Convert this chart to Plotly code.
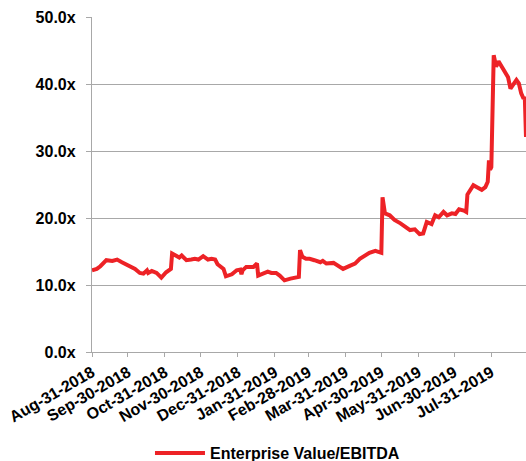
import plotly.graph_objects as go

dates = [
    "2018-08-31", "2018-09-04", "2018-09-07", "2018-09-12", "2018-09-17", "2018-09-21",
    "2018-09-25", "2018-09-29", "2018-10-02", "2018-10-06", "2018-10-10", "2018-10-13",
    "2018-10-16", "2018-10-17", "2018-10-20", "2018-10-24", "2018-10-28", "2018-11-01",
    "2018-11-05", "2018-11-06", "2018-11-09", "2018-11-12", "2018-11-14", "2018-11-18",
    "2018-11-22", "2018-11-25", "2018-11-28", "2018-12-02", "2018-12-06", "2018-12-09",
    "2018-12-12", "2018-12-14", "2018-12-19", "2018-12-21", "2018-12-26", "2018-12-30",
    "2019-01-02", "2019-01-03", "2019-01-04", "2019-01-07", "2019-01-13", "2019-01-16",
    "2019-01-17", "2019-01-21", "2019-01-25", "2019-01-28", "2019-02-01", "2019-02-04",
    "2019-02-08", "2019-02-13", "2019-02-17", "2019-02-20", "2019-02-21", "2019-02-23",
    "2019-02-26", "2019-03-01", "2019-03-05", "2019-03-10", "2019-03-12", "2019-03-15",
    "2019-03-21", "2019-03-25", "2019-03-29", "2019-04-04", "2019-04-08", "2019-04-12",
    "2019-04-16", "2019-04-20", "2019-04-25", "2019-04-28", "2019-04-30", "2019-05-01",
    "2019-05-03", "2019-05-07", "2019-05-11", "2019-05-16", "2019-05-20", "2019-05-24",
    "2019-05-28", "2019-06-01", "2019-06-04", "2019-06-07", "2019-06-11", "2019-06-14",
    "2019-06-17", "2019-06-21", "2019-06-24", "2019-06-28", "2019-07-01", "2019-07-04",
    "2019-07-08", "2019-07-10", "2019-07-11", "2019-07-13", "2019-07-16", "2019-07-19",
    "2019-07-23", "2019-07-26", "2019-07-28", "2019-07-29", "2019-07-30", "2019-07-31",
    "2019-08-02", "2019-08-04", "2019-08-06", "2019-08-09", "2019-08-11", "2019-08-14",
    "2019-08-16", "2019-08-18", "2019-08-21", "2019-08-23", "2019-08-25", "2019-08-27",
    "2019-08-28", "2019-08-29",
]

ev_ebitda = [
    12.2, 12.4, 12.8, 13.7, 13.6, 13.8,
    13.4, 13.0, 12.8, 12.4, 11.8, 11.7,
    12.2, 11.8, 12.1, 11.8, 11.1, 11.9,
    12.4, 14.7, 14.4, 14.1, 14.4, 13.7,
    13.8, 13.9, 13.8, 14.3, 13.8, 13.9,
    13.8, 13.1, 12.4, 11.3, 11.6, 12.2,
    12.3, 11.6, 12.2, 12.7, 12.7, 13.2,
    11.4, 11.7, 12.0, 11.8, 11.8, 11.4,
    10.7, 10.95, 11.1, 11.2, 15.2, 14.2,
    13.9, 13.9, 13.7, 13.4, 13.6, 13.2,
    13.3, 12.8, 12.4, 12.9, 13.2, 13.9,
    14.3, 14.8, 15.1, 14.9, 14.8, 23.1,
    20.7, 20.4, 19.7, 19.2, 18.7, 18.2,
    18.3, 17.6, 17.7, 19.4, 19.1, 20.4,
    20.1, 20.9, 20.4, 20.7, 20.6, 21.3,
    21.1, 20.9, 23.5, 24.1, 24.9, 24.6,
    24.2, 24.6, 25.4, 28.6, 27.2, 27.6,
    44.3, 42.6, 43.4, 42.5, 41.8, 41.0,
    39.3, 39.8, 40.6, 40.1, 38.6, 37.8,
    38.1, 32.1,
]

tick_dates = [
    "2018-08-31", "2018-09-30", "2018-10-31", "2018-11-30", "2018-12-31",
    "2019-01-31", "2019-02-28", "2019-03-31", "2019-04-30", "2019-05-31",
    "2019-06-30", "2019-07-31",
]
tick_labels = [
    "Aug-31-2018", "Sep-30-2018", "Oct-31-2018", "Nov-30-2018", "Dec-31-2018",
    "Jan-31-2019", "Feb-28-2019", "Mar-31-2019", "Apr-30-2019", "May-31-2019",
    "Jun-30-2019", "Jul-31-2019",
]
y_ticks = [0, 10, 20, 30, 40, 50]
y_labels = ["0.0x", "10.0x", "20.0x", "30.0x", "40.0x", "50.0x"]

RED = "#ED2226"
GRID = "#A8A8A8"
FONT = "Liberation Sans, Arial, sans-serif"

fig = go.Figure()
fig.add_trace(go.Scatter(
    x=dates, y=ev_ebitda, mode="lines", name="Enterprise Value/EBITDA",
    line=dict(color=RED, width=4),
))

fig.update_layout(
    width=526, height=461,
    margin=dict(l=92, r=0, t=17, b=109, autoexpand=False),
    plot_bgcolor="white", paper_bgcolor="white",
    showlegend=True,
    legend=dict(
        orientation="h", x=0.1336, xanchor="left", y=-0.302, yanchor="middle",
        font=dict(family=FONT, size=16, color="#000000", weight="bold"),
        itemwidth=50,
    ),
)
fig.update_xaxes(
    type="date", range=["2018-08-31", "2019-08-29"], automargin=False,
    tickvals=tick_dates, ticktext=tick_labels, tickangle=-30,
    ticklabeloverflow="allow",
    tickfont=dict(family=FONT, size=16, color="#000000", weight="bold"),
    ticks="outside", ticklen=4, tickcolor=GRID, tickwidth=1,
    showline=True, linecolor=GRID, linewidth=1.3,
    showgrid=False, zeroline=False,
)
fig.update_yaxes(
    range=[0, 50], tickvals=y_ticks, ticktext=y_labels, automargin=False,
    ticklabelstandoff=7,
    tickfont=dict(family=FONT, size=16, color="#000000", weight="bold"),
    ticks="outside", ticklen=5, tickcolor=GRID, tickwidth=1,
    showline=True, linecolor=GRID, linewidth=1.3,
    showgrid=True, gridcolor=GRID, gridwidth=1.3,
    zeroline=False,
)

fig.write_html(
    "out.html",
    config={"displayModeBar": False},
    post_script="document.body.style.margin='0';document.body.style.overflow='hidden';",
)
